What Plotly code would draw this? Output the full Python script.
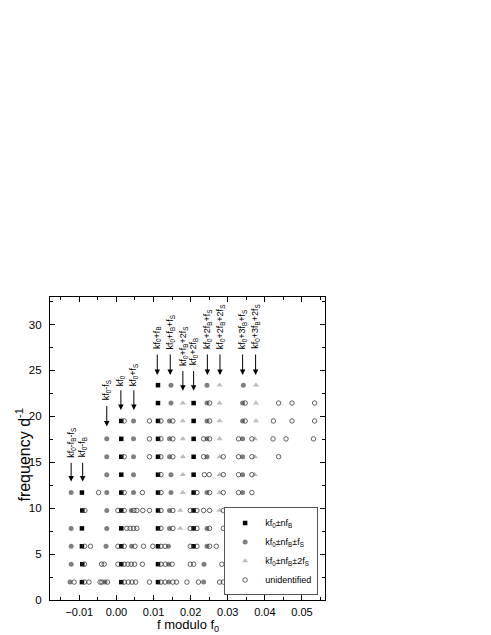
import plotly.graph_objects as go

# ---------------- data ----------------
# rows are harmonics k*f0 (frequency d^-1)
sq_x = [-0.0093, 0.0013, 0.0112,
        -0.0092, 0.0013, 0.0112,
        -0.0093, 0.0013, 0.0112, 0.0208,
        -0.0093, 0.0013, 0.0112, 0.0208,
        -0.0092, 0.0013, 0.0112, 0.0208,
        -0.0093, 0.0013, 0.0112, 0.0208,
        0.0013, 0.0112, 0.0208,
        0.0013, 0.0112, 0.0208,
        0.0013, 0.0112, 0.0208,
        0.0013, 0.0112, 0.0208,
        0.0112, 0.0208,
        0.0112]
sq_y = [1.95, 1.95, 1.95,
        3.9, 3.9, 3.9,
        5.85, 5.85, 5.85, 5.85,
        7.8, 7.8, 7.8, 7.8,
        9.75, 9.75, 9.75, 9.75,
        11.7, 11.7, 11.7, 11.7,
        13.65, 13.65, 13.65,
        15.6, 15.6, 15.6,
        17.55, 17.55, 17.55,
        19.5, 19.5, 19.5,
        21.45, 21.45,
        23.4]

gc_x = [-0.0125, -0.0031, 0.0141, 0.0235,
        -0.0122, 0.0141, 0.0236,
        -0.0122, -0.0028, 0.0041, 0.0140, 0.0244,
        -0.0122, -0.0026, 0.0143, 0.0244,
        -0.0026, 0.0040, 0.0143,
        -0.0122, -0.0026, 0.0046, 0.0147, 0.0244, 0.0340,
        -0.0026, 0.0046, 0.0147, 0.0340,
        -0.0026, 0.0046, 0.0143, 0.0244, 0.0340,
        -0.0026, 0.0046, 0.0143, 0.0244, 0.0340,
        0.0046, 0.0143, 0.0244, 0.0340,
        0.0147, 0.0244, 0.0340,
        0.0147, 0.0244, 0.0342]
gc_y = [1.95, 1.95, 1.95, 1.95,
        3.9, 3.9, 3.9,
        5.85, 5.85, 5.85, 5.85, 5.85,
        7.8, 7.8, 7.8, 7.8,
        9.75, 9.75, 9.75,
        11.7, 11.7, 11.7, 11.7, 11.7, 11.7,
        13.65, 13.65, 13.65, 13.65,
        15.6, 15.6, 15.6, 15.6, 15.6,
        17.55, 17.55, 17.55, 17.55, 17.55,
        19.5, 19.5, 19.5, 19.5,
        21.45, 21.45, 21.45,
        23.4, 23.4, 23.4]

tr_x = [0.0172,
        0.0172, 0.0278,
        0.0179, 0.0278,
        0.0179, 0.0278, 0.0373,
        0.0179, 0.0278, 0.0373,
        0.0179, 0.0278, 0.0373,
        0.0179, 0.0278, 0.0376,
        0.0179, 0.0278, 0.0376,
        0.0278, 0.0376]
tr_y = [7.8,
        9.75, 9.75,
        11.7, 11.7,
        13.65, 13.65, 13.65,
        15.6, 15.6, 15.6,
        17.55, 17.55, 17.55,
        19.5, 19.5, 19.5,
        21.45, 21.45, 21.45,
        23.4, 23.4]

un_x = [-0.0114, -0.0086, -0.0074, -0.0044, -0.0039, -0.0024, 0.0021, 0.0032, 0.0042, 0.0052,
        0.0089, 0.0120, 0.0131, 0.0152, 0.0162, 0.0190, 0.0221, 0.0278, 0.0288,
        -0.0086, -0.0040, -0.0033, 0.0004, 0.0021, 0.0031, 0.0040, 0.0049, 0.0070,
        0.0120, 0.0132, 0.0150, 0.0199, 0.0208, 0.0284,
        -0.0086, -0.0070, 0.0004, 0.0021, 0.0050, 0.0073, 0.0098, 0.0120, 0.0131,
        0.0199, 0.0217, 0.0251, 0.0269, 0.0327,
        0.0028, 0.0037, 0.0046, 0.0055, 0.0120, 0.0152, 0.0199, 0.0217, 0.0251, 0.0288, 0.0366,
        -0.0085, 0.0004, 0.0021, 0.0047, 0.0055, 0.0071, 0.0089, 0.0120, 0.0152, 0.0199,
        0.0217, 0.0235, 0.0251, 0.0288, 0.0329, 0.0365, 0.0464, 0.0497,
        -0.0048, 0.0021, 0.0070, 0.0120, 0.0217, 0.0251, 0.0288, 0.0329, 0.0365,
        0.0120, 0.0237, 0.0250, 0.0288, 0.0329, 0.0365,
        0.0021, 0.0089, 0.0120, 0.0152, 0.0235, 0.0288, 0.0329, 0.0365, 0.0437,
        0.0089, 0.0120, 0.0152, 0.0235, 0.0251, 0.0329, 0.0365, 0.0422, 0.0457, 0.0531,
        0.0021, 0.0089, 0.0120, 0.0152, 0.0251, 0.0347, 0.0423, 0.0473, 0.0534,
        0.0251, 0.0347, 0.0437, 0.0473, 0.0534]
un_y = [1.95, 1.95, 1.95, 1.95, 1.95, 1.95, 1.95, 1.95, 1.95, 1.95,
        1.95, 1.95, 1.95, 1.95, 1.95, 1.95, 1.95, 1.95, 1.95,
        3.9, 3.9, 3.9, 3.9, 3.9, 3.9, 3.9, 3.9, 3.9,
        3.9, 3.9, 3.9, 3.9, 3.9, 3.9,
        5.85, 5.85, 5.85, 5.85, 5.85, 5.85, 5.85, 5.85, 5.85,
        5.85, 5.85, 5.85, 5.85, 5.85,
        7.8, 7.8, 7.8, 7.8, 7.8, 7.8, 7.8, 7.8, 7.8, 7.8, 7.8,
        9.75, 9.75, 9.75, 9.75, 9.75, 9.75, 9.75, 9.75, 9.75, 9.75,
        9.75, 9.75, 9.75, 9.75, 9.75, 9.75, 9.75, 9.75,
        11.7, 11.7, 11.7, 11.7, 11.7, 11.7, 11.7, 11.7, 11.7,
        13.65, 13.65, 13.65, 13.65, 13.65, 13.65,
        15.6, 15.6, 15.6, 15.6, 15.6, 15.6, 15.6, 15.6, 15.6,
        17.55, 17.55, 17.55, 17.55, 17.55, 17.55, 17.55, 17.55, 17.55, 17.55,
        19.5, 19.5, 19.5, 19.5, 19.5, 19.5, 19.5, 19.5, 19.5,
        21.45, 21.45, 21.45, 21.45, 21.45]

# arrow annotations: label, x, label bottom, arrow tail, arrow tip
lab_text = ["kf<sub>0</sub>-f<sub>B</sub>-f<sub>S</sub>", "kf<sub>0</sub>-f<sub>B</sub>",
            "kf<sub>0</sub>-f<sub>S</sub>", "kf<sub>0</sub>", "kf<sub>0</sub>+f<sub>S</sub>",
            "kf<sub>0</sub>+f<sub>B</sub>", "kf<sub>0</sub>+f<sub>B</sub>+f<sub>S</sub>",
            "kf<sub>0</sub>+f<sub>B</sub>+2f<sub>S</sub>", "kf<sub>0</sub>+2f<sub>B</sub>",
            "kf<sub>0</sub>+2f<sub>B</sub>+f<sub>S</sub>", "kf<sub>0</sub>+2f<sub>B</sub>+2f<sub>S</sub>",
            "kf<sub>0</sub>+3f<sub>B</sub>+f<sub>S</sub>", "kf<sub>0</sub>+3f<sub>B</sub>+2f<sub>S</sub>"]
lab_x = [-0.0122, -0.0091, -0.0026, 0.0012, 0.0047, 0.0110, 0.0145, 0.0179, 0.0208,
         0.0245, 0.0279, 0.0340, 0.0375]
lab_bottom = [15.3, 15.3, 21.5, 23.1, 23.1, 27.1, 27.1, 25.3, 25.3, 27.1, 27.1, 27.1, 27.1]
arr_tail = [15.1, 15.1, 21.3, 23.0, 23.0, 26.9, 26.9, 25.1, 25.1, 26.9, 26.9, 26.9, 26.9]
arr_tip = [12.9, 12.9, 18.9, 20.7, 20.7, 24.5, 24.5, 22.8, 22.8, 24.5, 24.5, 24.5, 24.5]

legend_names = ["kf<sub>0</sub>±nf<sub>B</sub>", "kf<sub>0</sub>±nf<sub>B</sub>±f<sub>S</sub>",
                "kf<sub>0</sub>±nf<sub>B</sub>±2f<sub>S</sub>", "unidentified"]

# ---------------- figure ----------------
FONT = "Liberation Sans, Arial, sans-serif"
fig = go.Figure()
fig.add_trace(go.Scatter(x=sq_x, y=sq_y, mode="markers", name=legend_names[0],
                         marker=dict(symbol="square", size=4.5, color="#000000")))
fig.add_trace(go.Scatter(x=gc_x, y=gc_y, mode="markers", name=legend_names[1],
                         marker=dict(symbol="circle", size=5, color="#7f7f7f")))
fig.add_trace(go.Scatter(x=tr_x, y=tr_y, mode="markers", name=legend_names[2],
                         marker=dict(symbol="triangle-up", size=5.5, color="#bdbdbd")))
fig.add_trace(go.Scatter(x=un_x, y=un_y, mode="markers", name=legend_names[3],
                         marker=dict(symbol="circle-open", size=4.5, color="#3a3a3a",
                                     line=dict(width=0.8, color="#3a3a3a"))))

anns = []
for t, x, lb, ta, tp in zip(lab_text, lab_x, lab_bottom, arr_tail, arr_tip):
    anns.append(dict(x=x, y=tp, ax=x, ay=ta, xref="x", yref="y", axref="x", ayref="y",
                     text="", showarrow=True, arrowhead=2, arrowsize=1.1, arrowwidth=1,
                     arrowcolor="#000000"))
    anns.append(dict(x=x, y=lb, xref="x", yref="y", text=t, textangle=-90,
                     showarrow=False, xanchor="center", yanchor="bottom",
                     font=dict(family=FONT, size=9, color="#000000")))
anns.append(dict(x=0.0, y=0.48, xref="paper", yref="paper", xshift=-27,
                 text="frequency d<sup>-1</sup>", textangle=-90, showarrow=False,
                 xanchor="center", yanchor="middle",
                 font=dict(family=FONT, size=16, color="#000000")))
anns.append(dict(x=0.5, y=0.0, xref="paper", yref="paper", yshift=-15,
                 text="f modulo f<sub>0</sub>", showarrow=False,
                 xanchor="center", yanchor="top",
                 font=dict(family=FONT, size=13, color="#000000")))

axis_common = dict(showline=True, linecolor="#000000", linewidth=1.3, mirror="ticks",
                   ticks="inside", ticklen=5, tickwidth=1, tickcolor="#000000",
                   showgrid=False, zeroline=False)
fig.update_xaxes(range=[-0.0179, 0.0562], dtick=0.01, tick0=0, tickformat=".2f",
                 minor=dict(dtick=0.005, ticks="inside", ticklen=3, tickcolor="#000000"),
                 ticklabelstandoff=2,
                 tickfont=dict(family=FONT, size=11, color="#000000"), **axis_common)
fig.update_yaxes(range=[0, 33], dtick=5, tick0=0,
                 minor=dict(dtick=2.5, ticks="inside", ticklen=3, tickcolor="#000000"),
                 ticklabelstandoff=5,
                 tickfont=dict(family=FONT, size=11.5, color="#000000"), **axis_common)

fig.update_layout(
    width=491, height=635, autosize=False,
    margin=dict(l=42, r=174, t=289, b=43, pad=0),
    plot_bgcolor="#ffffff", paper_bgcolor="#ffffff",
    annotations=anns,
    showlegend=True,
    legend=dict(x=0.975, y=0.015, xanchor="right", yanchor="bottom",
                bgcolor="#ffffff", bordercolor="#555555", borderwidth=1,
                font=dict(family=FONT, size=9, color="#000000"),
                itemwidth=30, tracegroupgap=0),
)

fig.write_html("out.html")
